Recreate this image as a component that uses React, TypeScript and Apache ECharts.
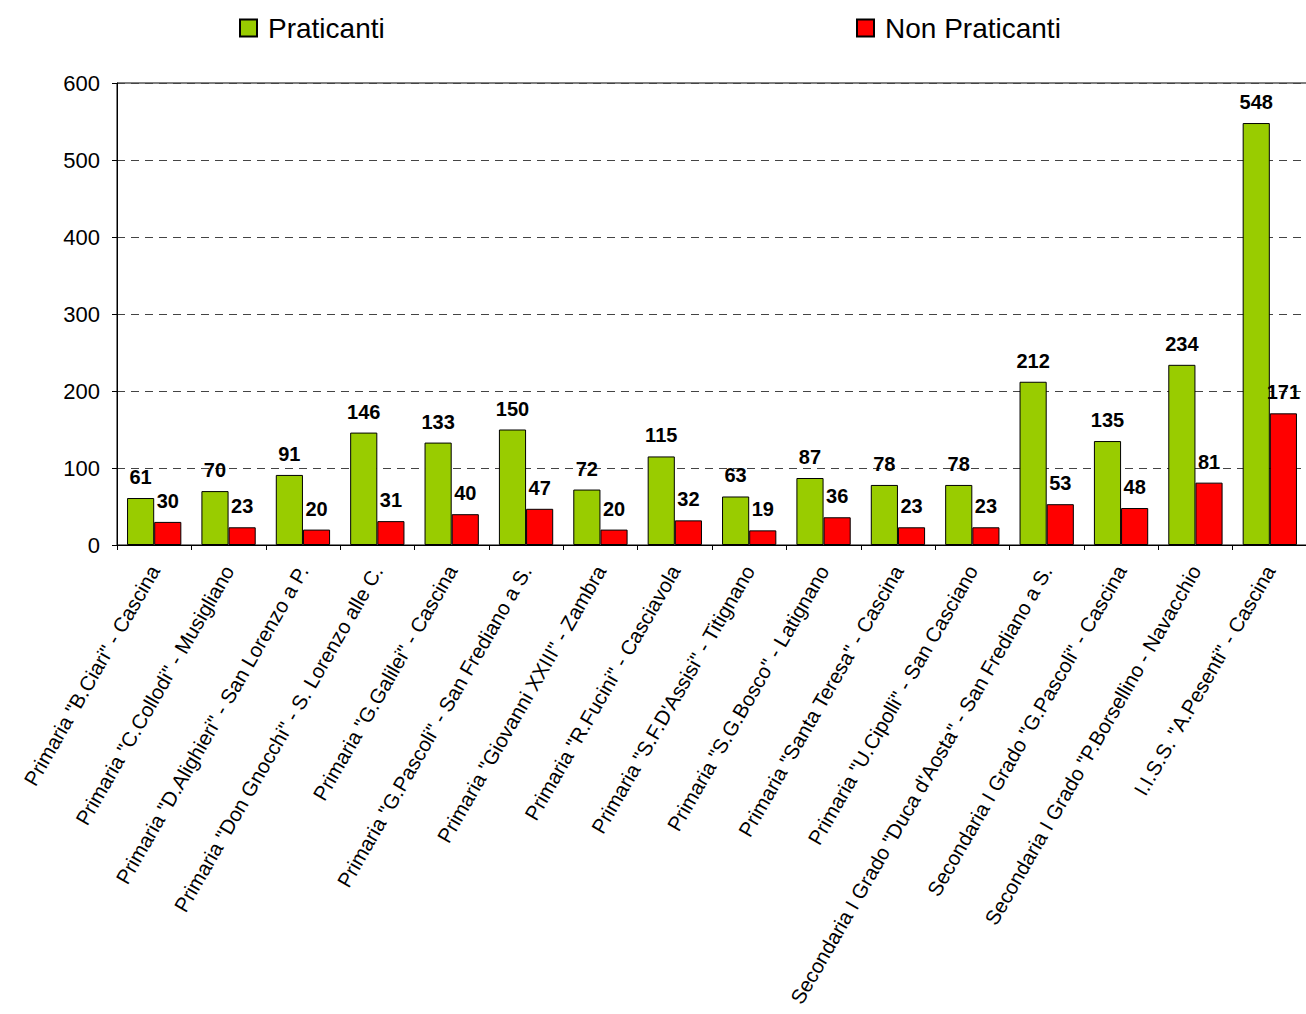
import React, { useEffect, useRef } from "react";
import * as echarts from "echarts";

const categories: string[] = [
  'Primaria "B.Ciari" - Cascina',
  'Primaria "C.Collodi" - Musigliano',
  'Primaria "D.Alighieri" - San Lorenzo a P.',
  'Primaria "Don Gnocchi" - S. Lorenzo alle C.',
  'Primaria "G.Galilei" - Cascina',
  'Primaria "G.Pascoli" - San Frediano a S.',
  'Primaria "Giovanni XXIII" - Zambra',
  'Primaria "R.Fucini" - Casciavola',
  'Primaria "S.F.D\'Assisi" - Titignano',
  'Primaria "S.G.Bosco" - Latignano',
  'Primaria "Santa Teresa" - Cascina',
  'Primaria "U.Cipolli" - San Casciano',
  'Secondaria I Grado "Duca d\'Aosta" - San Frediano a S.',
  'Secondaria I Grado "G.Pascoli" - Cascina',
  'Secondaria I Grado "P.Borsellino - Navacchio',
  'I.I.S.S. "A.Pesenti" - Cascina',
];

const praticanti: number[] = [61, 70, 91, 146, 133, 150, 72, 115, 63, 87, 78, 78, 212, 135, 234, 548];
const nonPraticanti: number[] = [30, 23, 20, 31, 40, 47, 20, 32, 19, 36, 23, 23, 53, 48, 81, 171];

const yMin = 0;
const yMax = 600;
const yStep = 100;

const FONT = "Arial, 'Liberation Sans', sans-serif";

export default function App() {
  const ref = useRef<HTMLDivElement>(null);

  useEffect(() => {
    if (!ref.current) return;
    const chart = echarts.init(ref.current, null, { renderer: "svg" });
    const labelCfg = {
      show: true,
      position: "top" as const,
      distance: 11,
      fontFamily: FONT,
      fontWeight: "bold" as const,
      fontSize: 20,
      color: "#000",
    };
    const legendBase = {
      top: 14,
      padding: 0,
      itemWidth: 17,
      itemHeight: 17,
      itemGap: 10,
      icon: "rect",
      textStyle: { fontSize: 28, color: "#000", fontFamily: FONT, padding: [0, 0, 0, 6] },
    };
    chart.setOption({
      animation: false,
      backgroundColor: "#fff",
      textStyle: { fontFamily: FONT },
      legend: [
        { ...legendBase, data: ["Praticanti"], left: 239 },
        { ...legendBase, data: ["Non Praticanti"], left: 856 },
      ],
      grid: {
        left: 117,
        right: -1,
        top: 83,
        bottom: 469,
        containLabel: false,
        outerBoundsMode: "none",
        show: true,
        borderColor: "#000",
        borderWidth: 1,
        backgroundColor: "transparent",
      },
      xAxis: {
        type: "category",
        data: categories,
        axisLine: { show: true, lineStyle: { color: "#000", width: 1 } },
        axisTick: { show: true, length: 5, interval: 0, alignWithLabel: false, lineStyle: { color: "#000" } },
        axisLabel: {
          interval: 0,
          rotate: 60,
          margin: 22,
          fontSize: 20.5,
          color: "#000",
          fontFamily: FONT,
        },
        splitLine: { show: false },
      },
      yAxis: {
        type: "value",
        min: yMin,
        max: yMax,
        interval: yStep,
        axisLine: { show: true, lineStyle: { color: "#000", width: 1 } },
        axisTick: { show: true, length: 5, lineStyle: { color: "#000" } },
        axisLabel: { fontSize: 22, color: "#000", margin: 17, fontFamily: FONT },
        splitLine: { show: true, lineStyle: { color: "#444", type: [8, 6], width: 1 } },
      },
      series: [
        {
          name: "Praticanti",
          type: "bar",
          data: praticanti,
          barGap: "0%",
          barCategoryGap: "27%",
          itemStyle: { color: "#99CC00", borderColor: "#000", borderWidth: 1 },
          label: labelCfg,
        },
        {
          name: "Non Praticanti",
          type: "bar",
          data: nonPraticanti,
          barGap: "0%",
          barCategoryGap: "27%",
          itemStyle: { color: "#FF0000", borderColor: "#000", borderWidth: 1 },
          label: labelCfg,
        },
      ],
    });
    return () => chart.dispose();
  }, []);

  return (
    <div
      ref={ref}
      style={{ position: "fixed", left: 0, top: 0, width: 1306, height: 1014, background: "#fff" }}
    />
  );
}
